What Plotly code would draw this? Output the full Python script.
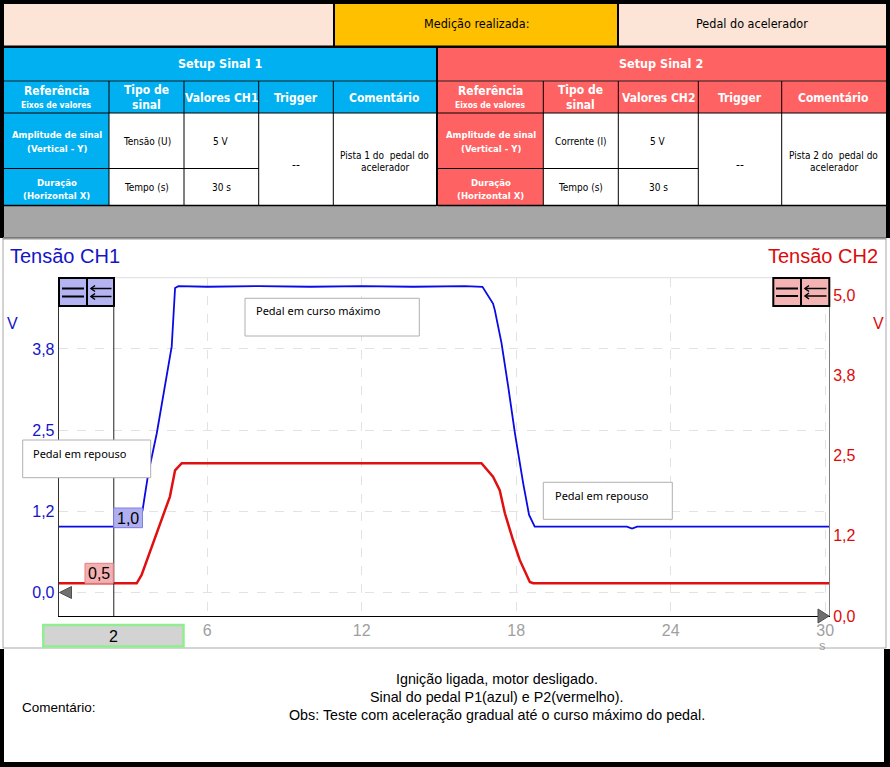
import plotly.graph_objects as go

# ---------------- data ----------------
t_ch1 = [0.23, 3.32, 3.49, 3.71, 4.04, 4.55, 4.62, 4.75, 4.88, 6.0, 8.0, 10.0, 12.0, 14.0, 16.0,
         16.69, 17.10, 17.17, 17.43, 17.69, 17.95, 18.27, 18.50, 18.72, 22.3, 22.5, 22.7, 30.15]
v_ch1 = [1.01, 1.01, 1.27, 1.83, 2.45, 3.58, 3.79, 4.69, 4.72, 4.71, 4.72, 4.71, 4.72, 4.71, 4.72,
         4.71, 4.45, 4.35, 3.84, 3.17, 2.45, 1.68, 1.19, 1.01, 1.01, 0.98, 1.01, 1.01]

t_ch2 = [0.23, 3.26, 3.45, 4.04, 4.55, 4.75, 5.01, 16.65, 17.10, 17.36, 17.56, 17.88, 18.14, 18.53, 18.66, 30.15]
v_ch2 = [0.51, 0.51, 0.64, 1.29, 1.86, 2.27, 2.38, 2.38, 2.17, 1.96, 1.60, 1.18, 0.87, 0.53, 0.51, 0.51]

x_ticks = [6, 12, 18, 24, 30]
y1_ticks = [0, 1.25, 2.5, 3.75]
y1_labels = ["0,0", "1,2", "2,5", "3,8"]
y2_ticks = [0, 1.25, 2.5, 3.75, 5.0]
y2_labels = ["0,0", "1,2", "2,5", "3,8", "5,0"]
cursor_t = 2.37
cursor_label = "2"
ch1_level_label = "1,0"
ch2_level_label = "0,5"

# ---------------- helpers ----------------
W, H = 890, 767
def px(x): return x / W
def py(y): return 1 - y / H

shapes = []
annots = []

def rect(x0, y0, x1, y1, fill, lc=None, lw=0, layer="above"):
    shapes.append(dict(type="rect", xref="paper", yref="paper",
                       x0=px(x0), x1=px(x1), y0=py(y1), y1=py(y0),
                       fillcolor=fill, layer=layer,
                       line=dict(color=lc if lc else fill, width=lw)))

def hline(x0, x1, y, color="black", w=1, dash="solid"):
    shapes.append(dict(type="line", xref="paper", yref="paper",
                       x0=px(x0), x1=px(x1), y0=py(y), y1=py(y),
                       line=dict(color=color, width=w, dash=dash)))

def vline(x, y0, y1, color="black", w=1):
    shapes.append(dict(type="line", xref="paper", yref="paper",
                       x0=px(x), x1=px(x), y0=py(y0), y1=py(y1),
                       line=dict(color=color, width=w)))

def path(pts, fill=None, color="black", w=1, close=False):
    d = "M " + " L ".join(f"{px(a):.5f},{py(b):.5f}" for a, b in pts)
    if close:
        d += " Z"
    shapes.append(dict(type="path", xref="paper", yref="paper", path=d,
                       fillcolor=fill if fill else "rgba(0,0,0,0)",
                       line=dict(color=color, width=w)))

TFONT = "DejaVu Sans Condensed, Liberation Sans, Arial"

def text(x, y, s, size=10, color="black", bold=False, xa="center", family=TFONT):
    if bold:
        s = "<b>" + s + "</b>"
    annots.append(dict(x=px(x), y=py(y), xref="paper", yref="paper", text=s,
                       showarrow=False, xanchor=xa, yanchor="middle",
                       font=dict(size=size, color=color, family=family)))

BLUE = "#00B0F0"
RED = "#FF6262"
PEACH = "#FCE4D6"
GOLD = "#FFC000"
GRAYBAND = "#A6A6A6"
GRID = "#E2E2E2"

# ---------------- table (top) ----------------
rect(0, 0, 890, 238, "black", layer="below")
rect(4, 4, 333, 45.5, PEACH)
rect(335, 4, 617, 45.5, GOLD)
rect(619, 4, 886, 45.5, PEACH)
text(476, 24, "Medição realizada:", 12.5)
text(752, 24, "Pedal do acelerador", 12.5)

# setup blocks
rect(4, 48, 436, 205, BLUE)
rect(438, 48, 886, 205, RED)
rect(109, 113, 436, 205, "white")
rect(543.3, 113, 886, 205, "white")
rect(4, 206, 886, 237, GRAYBAND)

# cell borders
for xs, xe in [(4, 436), (438, 886)]:
    hline(xs, xe, 81, "#202020", 1)
    hline(xs, xe, 113, "black", 1)
    hline(xs, xe, 205.5, "black", 1.5)
for x in [109, 184, 258.7, 333.3]:
    vline(x, 81, 205)
hline(4, 258.7, 168.5)
for x in [543.3, 618.3, 698.3, 781.7]:
    vline(x, 81, 205)
hline(438, 698.3, 168.5)

text(220, 63, "Setup Sinal 1", 12.5, "white", True)
text(661, 63, "Setup Sinal 2", 12.5, "white", True)

cols_l = [56.5, 146.5, 221.3, 296, 384.7]
cols_r = [490.6, 580.8, 658.3, 740, 833.9]
for cols, ch, tipo, pista in [(cols_l, "CH1", "Tensão (U)", "Pista 1 do  pedal do"),
                               (cols_r, "CH2", "Corrente (I)", "Pista 2 do  pedal do")]:
    text(cols[0], 91, "Referência", 12, "white", True)
    text(cols[0], 105, "Eixos de valores", 8.5, "white", True)
    text(cols[1], 90.5, "Tipo de", 12, "white", True)
    text(cols[1], 104.5, "sinal", 12, "white", True)
    text(cols[2], 98, "Valores " + ch, 12, "white", True)
    text(cols[3], 98, "Trigger", 12, "white", True)
    text(cols[4], 98, "Comentário", 12, "white", True)
    text(cols[0], 135, "Amplitude de sinal", 9.5, "white", True)
    text(cols[0], 148, "(Vertical - Y)", 9.5, "white", True)
    text(cols[0], 182, "Duração", 9.5, "white", True)
    text(cols[0], 195, "(Horizontal X)", 9.5, "white", True)
    text(cols[1], 141, tipo, 10)
    text(cols[2], 141, "5 V", 10)
    text(cols[1], 187, "Tempo (s)", 10)
    text(cols[2], 187, "30 s", 10)
    text(cols[3], 165, "--", 12)
    text(cols[4], 155, pista, 10)
    text(cols[4], 167, "acelerador", 10)

# ---------------- chart frame ----------------
rect(3, 238, 886, 648, "white", "#A8A8A8", 1, layer="below")
hline(3, 886, 238.5, "#9A9A9A", 2)

CFONT = "Liberation Sans, Arial"
text(8, 256, "Tensão CH1", 20, "#1414C8", xa="left", family=CFONT)
text(880, 256, "Tensão CH2", 20, "#DD0A0A", xa="right", family=CFONT)
text(12, 323, "V", 16, "#1414C8", family=CFONT)
text(878, 323, "V", 16, "#DD0A0A", family=CFONT)
text(822, 645, "s", 13, "#A0A0A0", family=CFONT)

# plot top border
hline(58.7, 829, 277.7, "#DDDDDD", 1)

# buttons left
rect(59, 278, 87, 306, "#B4B4F2", "black", 2)
rect(87, 278, 114, 306, "#B4B4F2", "black", 2)
hline(62, 84, 288.5, "black", 2)
hline(62, 84, 296.5, "black", 2)
for yy in (288.5, 296.5):
    hline(91, 111.5, yy, "black", 1.5)
    path([(95, yy - 3), (91, yy), (95, yy + 3)], color="black", w=1.5)
# buttons right
rect(773.3, 278, 801, 306, "#F4B4B4", "black", 2)
rect(801, 278, 829.3, 306, "#F4B4B4", "black", 2)
hline(776, 798, 288.5, "black", 2)
hline(776, 798, 296, "black", 2)
for yy in (288.5, 296):
    hline(805, 826.5, yy, "black", 1.5)
    path([(809, yy - 3), (805, yy), (809, yy + 3)], color="black", w=1.5)

# cursor line
shapes.append(dict(type="line", xref="x", yref="paper", x0=cursor_t, x1=cursor_t,
                   y0=py(616), y1=py(306), line=dict(color="#202020", width=1)))

# level markers
rect(113.7, 508, 142.5, 527.7, "#B0B0F0", "#8080E0", 1)
text(128, 518, ch1_level_label, 16, "black", family=CFONT)
rect(85, 563.3, 113.3, 583.3, "#F4B0B0", "#E08080", 1)
text(99, 573.5, ch2_level_label, 16, "black", family=CFONT)

# triangles
path([(71.5, 586.5), (59.5, 592.5), (71.5, 598.5)], fill="#707070", color="#505050", w=1, close=True)
path([(818, 609), (829, 616), (818, 623)], fill="#707070", color="#505050", w=1, close=True)

# cursor value box
rect(43.3, 625, 183.5, 646.5, "#D3D3D3", "#90EE90", 2.5)
text(113.5, 636, cursor_label, 16, "black", family=CFONT)

# note boxes
NFONT = "Noto Sans, Open Sans, Arial"
rect(22.7, 440, 150.7, 477.7, "white", "#B0B0B0", 1)
text(31, 453, "Pedal em repouso", 11, "black", xa="left", family=NFONT)
rect(245, 298.3, 419.3, 336, "white", "#B0B0B0", 1)
text(254, 311, "Pedal em curso máximo", 11, "black", xa="left", family=NFONT)
rect(543.3, 482.3, 672.3, 519.3, "white", "#B0B0B0", 1)
text(553, 495, "Pedal em repouso", 11, "black", xa="left", family=NFONT)

# ---------------- comment section ----------------
rect(0, 649, 4, 767, "black")
rect(884, 649, 890, 767, "black")
rect(0, 762, 890, 767, "black")
KFONT = "Liberation Sans, Arial"
text(20, 707, "Comentário:", 13.5, "black", xa="left", family=KFONT)
text(497, 679, "Ignição ligada, motor desligado.", 14.3, "black", family=KFONT)
text(497, 697, "Sinal do pedal P1(azul) e P2(vermelho).", 14.3, "black", family=KFONT)
text(497, 715, "Obs: Teste com aceleração gradual até o curso máximo do pedal.", 14.3, "black", family=KFONT)

# ---------------- traces ----------------
fig = go.Figure()
fig.add_trace(go.Scatter(x=t_ch1, y=v_ch1, mode="lines", yaxis="y",
                         line=dict(color="#0A0AE6", width=1.8), showlegend=False, hoverinfo="skip"))
fig.add_trace(go.Scatter(x=t_ch2, y=v_ch2, mode="lines", yaxis="y2",
                         line=dict(color="#E01010", width=2.5), showlegend=False, hoverinfo="skip"))

fig.update_layout(
    width=W, height=H,
    margin=dict(l=0, r=0, t=0, b=0),
    paper_bgcolor="white", plot_bgcolor="white",
    showlegend=False,
    xaxis=dict(domain=[px(58.7), px(829)], range=[0.23, 30.15], tickvals=x_ticks,
               showgrid=True, gridcolor=GRID, griddash="dash", gridwidth=1,
               showline=True, linecolor="black", linewidth=1.3, zeroline=False,
               ticks="", tickfont=dict(size=16, color="#A0A0A0", family=CFONT),
               automargin=False, fixedrange=True),
    yaxis=dict(domain=[py(616), py(277.7)], range=[-0.37, 4.85], tickvals=y1_ticks,
               ticktext=y1_labels, showgrid=True, gridcolor=GRID, griddash="dash",
               showline=True, linecolor="#303030", linewidth=1, zeroline=False, ticks="",
               tickfont=dict(size=16, color="#1414C8", family=CFONT), automargin=False),
    yaxis2=dict(domain=[py(616), py(277.7)], range=[0, 5.27], tickvals=y2_ticks,
                ticktext=y2_labels, overlaying="y", side="right", anchor="x",
                showgrid=False, showline=True, linecolor="#808080", linewidth=1,
                zeroline=False, ticks="", tickfont=dict(size=16, color="#DD0A0A", family=CFONT),
                automargin=False),
    shapes=shapes,
    annotations=annots,
)

fig.write_html("out.html", config={"displayModeBar": False},
               post_script="document.body.style.margin='0';document.body.style.overflow='hidden';")
